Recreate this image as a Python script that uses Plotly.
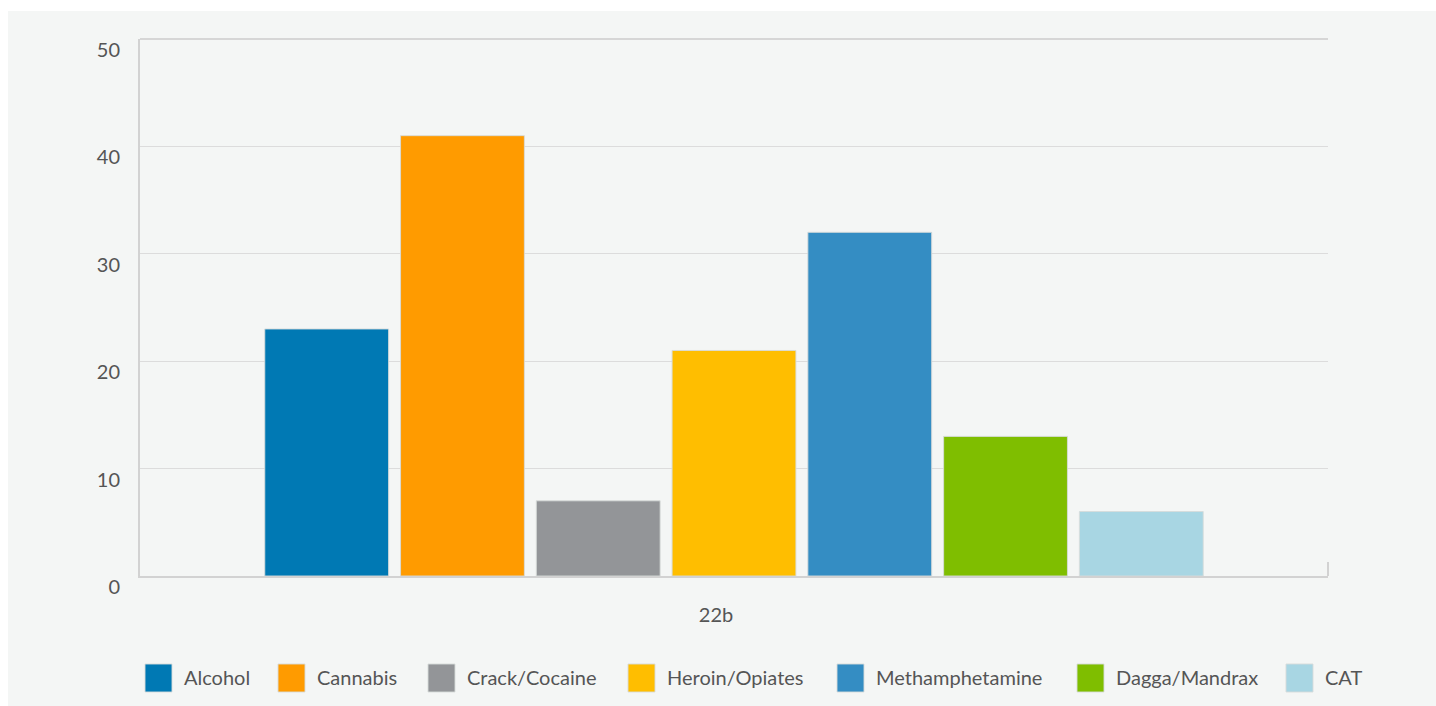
import plotly.graph_objects as go

categories = ["22b"]
series_names = ["Alcohol", "Cannabis", "Crack/Cocaine", "Heroin/Opiates",
                "Methamphetamine", "Dagga/Mandrax", "CAT"]
series_values = [23, 41, 7, 21, 32, 13, 6]
series_colors = ["#0079b4", "#ff9b00", "#939598", "#ffbe00",
                 "#348dc3", "#7fbe00", "#a8d6e3"]
y_ticks = [0, 10, 20, 30, 40, 50]

W, H = 1436, 706
L, R, T, B = 140, 108, 39, 130
pw, ph = W - L - R, H - T - B

def px_x(x):
    return (x - L) / pw

def px_y(y):
    return (H - B - y) / ph

FONT = "Lato, 'Open Sans', sans-serif"
TXT = "#555555"
FS = 20

fig = go.Figure()
for name, val, col in zip(series_names, series_values, series_colors):
    fig.add_trace(go.Bar(
        x=categories, y=[val], name=name,
        marker=dict(color=col, line=dict(color="rgba(215,220,218,0.9)", width=1)),
        showlegend=False,
    ))

shapes = [
    # grey card background
    dict(type="rect", xref="paper", yref="paper",
         x0=px_x(8), x1=px_x(W), y0=px_y(H), y1=px_y(11),
         fillcolor="#f4f6f5", line=dict(width=0), layer="below"),
    # top border line of plot area
    dict(type="line", xref="paper", yref="paper",
         x0=0, x1=1, y0=1, y1=1,
         line=dict(color="#d6d6d6", width=2)),
    # right end tick on category axis
    dict(type="line", xref="paper", yref="paper",
         x0=1, x1=1, y0=0, y1=14 / ph,
         line=dict(color="#d2d2d2", width=2)),
]
annotations = []

# legend (manual, large square swatches)
swatch_x = [145, 278, 428, 628, 837, 1077, 1286]
for sx, name, col in zip(swatch_x, series_names, series_colors):
    shapes.append(dict(type="rect", xref="paper", yref="paper",
                       x0=px_x(sx), x1=px_x(sx + 27), y0=px_y(692), y1=px_y(664),
                       fillcolor=col, line=dict(color="rgba(215,220,218,0.9)", width=1)))
    annotations.append(dict(xref="paper", yref="paper", x=px_x(sx + 37), y=px_y(677),
                            text=name, showarrow=False, xanchor="left", yanchor="middle",
                            font=dict(family=FONT, size=FS, color=TXT)))

fig.update_layout(
    width=W, height=H,
    margin=dict(l=L, r=R, t=T, b=B, pad=0),
    paper_bgcolor="white",
    plot_bgcolor="rgba(0,0,0,0)",
    barmode="group",
    bargap=0.2,
    bargroupgap=0.088,
    showlegend=False,
    font=dict(family=FONT, size=FS, color=TXT),
    shapes=shapes,
    annotations=annotations,
    xaxis=dict(
        type="category",
        showgrid=False,
        showline=True, linecolor="#d2d2d2", linewidth=2,
        ticks="", ticklabelstandoff=20, ticklabelshift=-18,
        tickfont=dict(family=FONT, size=FS, color=TXT),
        zeroline=False,
    ),
    yaxis=dict(
        range=[0, 50],
        tickvals=y_ticks,
        showgrid=True, gridcolor="#dcdcdc", gridwidth=1,
        showline=True, linecolor="#d2d2d2", linewidth=2,
        zeroline=False,
        ticks="", ticklabelstandoff=14, ticklabelshift=11,
        tickfont=dict(family=FONT, size=FS, color=TXT),
    ),
)

fig.write_html("out.html")
